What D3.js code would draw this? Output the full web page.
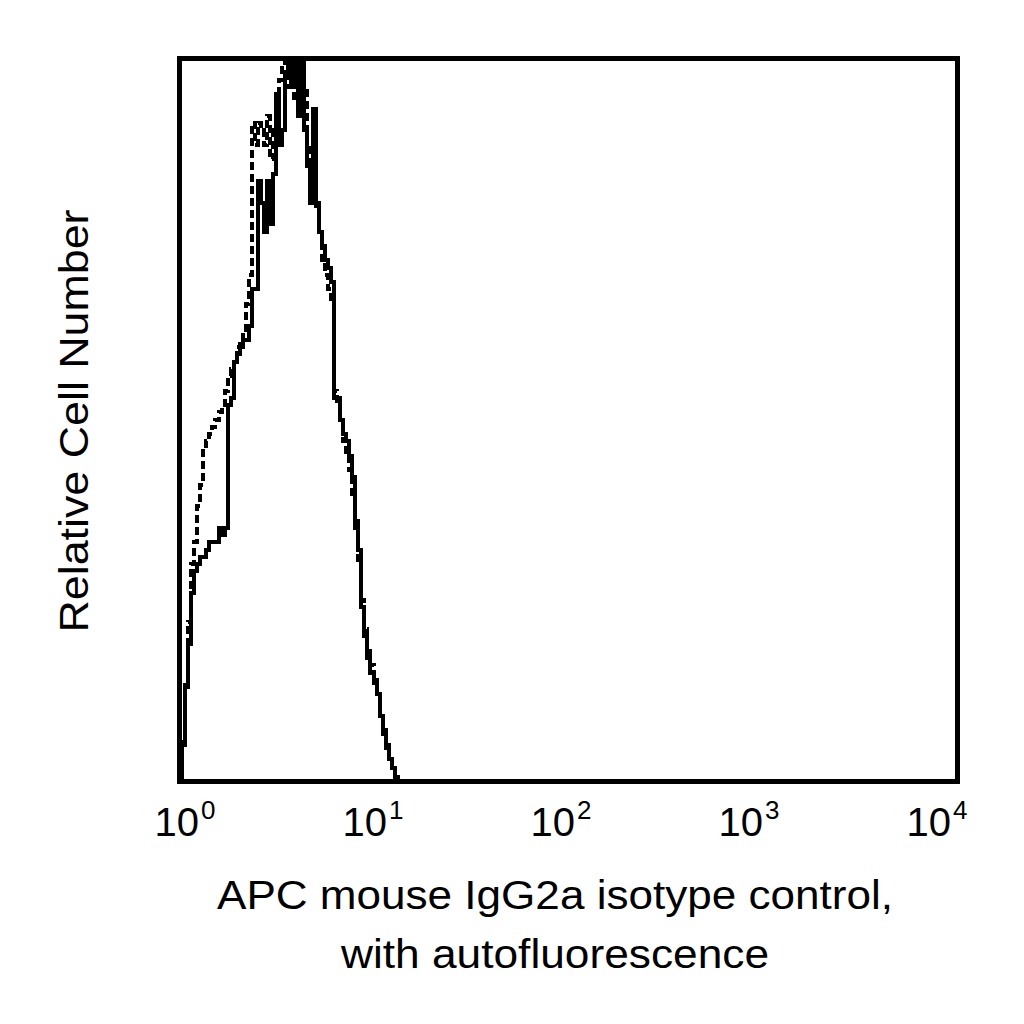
<!DOCTYPE html>
<html>
<head>
<meta charset="utf-8">
<script src="https://cdn.jsdelivr.net/npm/d3@7"></script>
<style>
  html, body { margin: 0; padding: 0; background: #fff; }
  svg { display: block; }
</style>
</head>
<body>
<div id="chart"></div>
<script>
// histogram bins: 64 channels per decade, starting at 10^0
const binsPerDecade = 64;
// isotype control (solid)
const isotypeCounts = [
  0.5, 5, 13, 19, 26, 29, 30, 31, 31, 32, 33, 33, 33, 35, 34, 35,
  52, 53, 58, 59, 60, 61, 61, 63, 68, 68, 83, 80, 76, 83, 77, 84,
  95, 88, 90, 98, 100, 96, 100, 92, 100, 90, 85, 80, 93, 80, 76, 74,
  72, 71, 69, 53, 53, 50, 48, 47, 45, 42, 36, 32, 24, 20, 17, 15,
  13.5, 12, 9, 6.5, 4.5, 3, 1.8, 0.5, 0
];
// autofluorescence (dashed)
const autoCounts = [
  0.6, 6, 14, 22, 30, 33, 38, 41, 46, 47, 48, 49, 50, 51, 52, 54,
  56, 57, 58, 60, 61, 62, 66, 70, 91, 88, 91, 90, 88, 92, 86, 90,
  95, 97, 99, 100, 96, 100, 94, 97, 100, 96, 88, 84, 82, 79, 76, 72,
  70, 68, 66, 54, 52, 50, 47, 45, 43, 39, 35, 30, 25, 21, 18, 16,
  14, 12, 9, 7, 5, 3, 1.5, 0.3, 0
];
const tickExponents = [0, 1, 2, 3, 4];
const xTitleLines = ["APC mouse IgG2a isotype control,", "with autofluorescence"];
const yTitle = "Relative Cell Number";

const width = 1024, height = 1024;
const plot = { left: 179, right: 957, top: 58, bottom: 781 };
const font = "'Liberation Sans', Arial, Helvetica, sans-serif";

const svg = d3.select("#chart").append("svg")
  .attr("width", width).attr("height", height)
  .attr("viewBox", `0 0 ${width} ${height}`);

const x = d3.scaleLog().domain([1, 1e4]).range([plot.left, plot.right]);
const y = d3.scaleLinear().domain([0, 100]).range([plot.bottom, plot.top]);
// labels sit on a slightly narrower spacing than the frame
const xLabel = d3.scaleLog().domain([1, 1e4]).range([185, 937]);

svg.append("defs").append("clipPath").attr("id", "clip")
  .append("rect")
  .attr("x", plot.left).attr("y", plot.top)
  .attr("width", plot.right - plot.left).attr("height", plot.bottom - plot.top);

const toPoints = (counts) => {
  const pts = counts.map((v, i) => [Math.pow(10, i / binsPerDecade), v]);
  pts.unshift([1, 0]);
  pts.push([Math.pow(10, counts.length / binsPerDecade), 0]);
  return pts;
};

const line = d3.line()
  .x((d) => x(d[0]))
  .y((d) => y(d[1]))
  .curve(d3.curveStepAfter);

const g = svg.append("g")
  .attr("clip-path", "url(#clip)")
  .attr("shape-rendering", "crispEdges");

g.append("path")
  .datum(toPoints(autoCounts))
  .attr("d", line)
  .attr("fill", "none")
  .attr("stroke", "#000")
  .attr("stroke-width", 4)
  .attr("stroke-dasharray", "8,4");

g.append("path")
  .datum(toPoints(isotypeCounts))
  .attr("d", line)
  .attr("fill", "none")
  .attr("stroke", "#000")
  .attr("stroke-width", 4);

// frame
svg.append("rect")
  .attr("x", plot.left).attr("y", plot.top)
  .attr("width", plot.right - plot.left).attr("height", plot.bottom - plot.top)
  .attr("fill", "none")
  .attr("stroke", "#000")
  .attr("stroke-width", 5)
  .attr("shape-rendering", "crispEdges");

// tick labels 10^n
const labels = svg.append("g")
  .attr("font-family", font)
  .attr("fill", "#000");

tickExponents.forEach((e) => {
  const t = labels.append("text")
    .attr("x", xLabel(Math.pow(10, e)))
    .attr("y", 836)
    .attr("text-anchor", "middle")
    .attr("font-size", 40);
  t.append("tspan").text("10");
  t.append("tspan")
    .attr("font-size", 26)
    .attr("dx", 2)
    .attr("dy", -17)
    .text(e);
});

// axis titles
svg.append("g")
  .attr("font-family", font)
  .attr("font-size", 40)
  .attr("text-anchor", "middle")
  .selectAll("text")
  .data(xTitleLines)
  .join("text")
  .attr("x", 555)
  .attr("y", (d, i) => 909 + i * 59)
  .attr("textLength", (d, i) => (i === 0 ? 676 : 428))
  .attr("lengthAdjust", "spacingAndGlyphs")
  .text((d) => d);

svg.append("text")
  .attr("transform", "translate(88, 421) rotate(-90)")
  .attr("font-family", font)
  .attr("font-size", 40)
  .attr("text-anchor", "middle")
  .attr("textLength", 423)
  .attr("lengthAdjust", "spacingAndGlyphs")
  .text(yTitle);
</script>
</body>
</html>
